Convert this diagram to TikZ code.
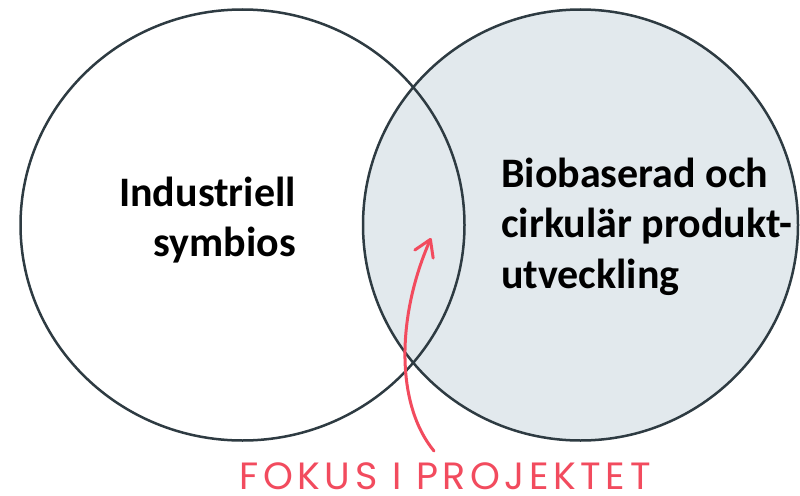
\documentclass[tikz,border=0pt]{standalone}
\usepackage{fontspec}
\setmainfont{Carlito}
\newfontfamily\focusfont{Poppins}[LetterSpace=12]
\usetikzlibrary{arrows.meta}
\definecolor{ringline}{HTML}{2E3B42}
\definecolor{ringfill}{HTML}{E2E9ED}
\definecolor{focusred}{HTML}{F24B5E}
\tikzset{
  ring/.style={draw=ringline, line width=2.5pt},
  bigtext/.style={font=\fontsize{42}{50.5}\selectfont\bfseries, inner sep=0pt, text=black},
  focustext/.style={font=\fontsize{38}{40}\selectfont\focusfont, text=focusred, inner sep=0pt},
  focusarrow/.style={draw=focusred, line width=3pt, line cap=round,
    -{Straight Barb[length=16pt, width=20pt, line width=3pt, round]}}
}
\begin{document}
\begin{tikzpicture}[x=1pt, y=-1pt]
  \useasboundingbox (0,0) rectangle (800,495);
  \fill[white] (0,0) rectangle (800,495);
  % right ellipse (filled)
  \path[ring, fill=ringfill] (580.5,225) ellipse [x radius=217.5, y radius=215.5];
  % left ellipse (outline only)
  \path[ring] (242.5,225) ellipse [x radius=222, y radius=215.5];
  % texts (base anchor = baseline of the last line)
  \node[bigtext, align=right, anchor=base east] (left) at (296,256.5) {Industriell\\symbios};
  \node[bigtext, align=left, anchor=base west] (right) at (501,288) {Biobaserad och\\cirkulär produkt-\\utveckling};
  \node[focustext, anchor=base] (focus) at (445,489.5) {FOKUS I PROJEKTET};
  % arrow
  \coordinate (tail) at (434,451);
  \coordinate (tip) at (431,238);
  \draw[focusarrow] (tail) .. controls (396,405) and (396,318) .. (tip);
\end{tikzpicture}
\end{document}
